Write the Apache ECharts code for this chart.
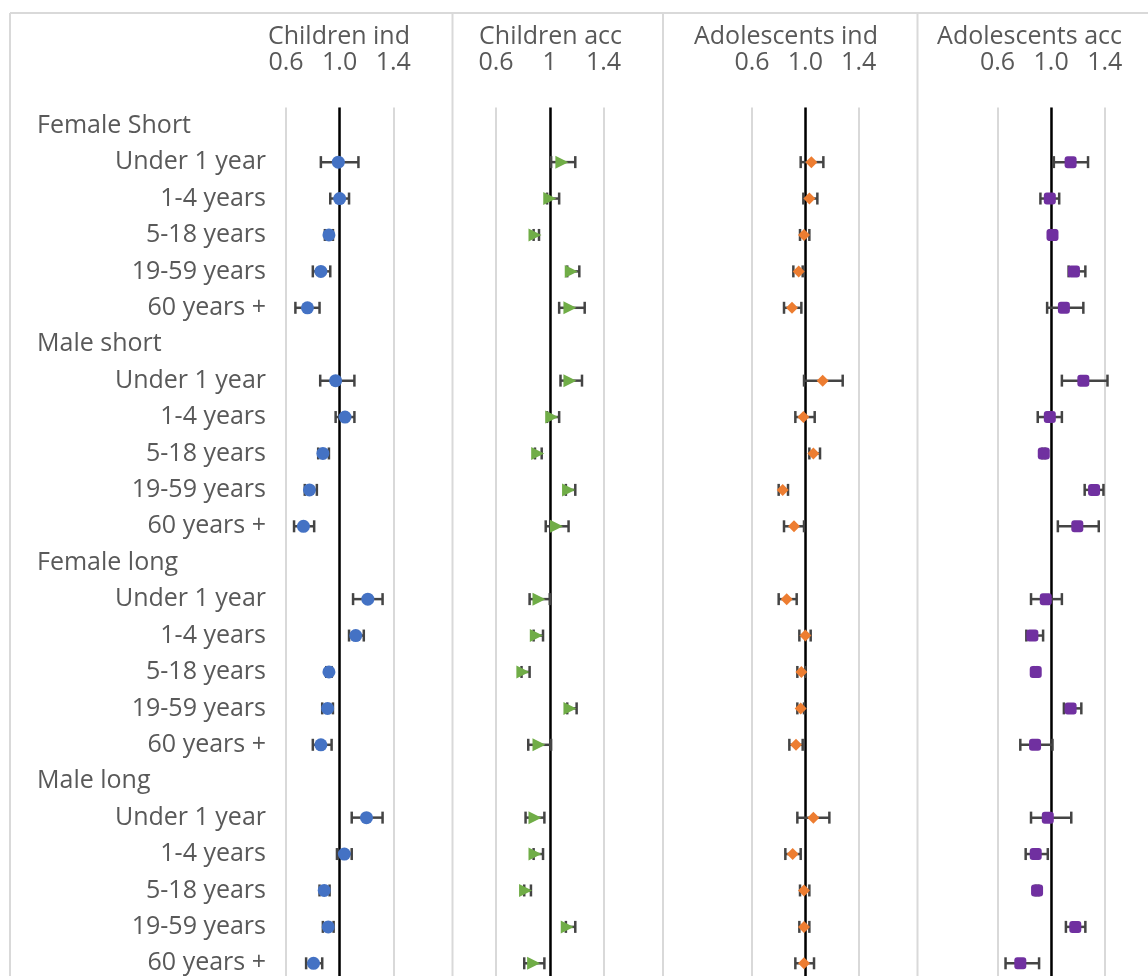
<!DOCTYPE html>
<html>
<head>
<meta charset="utf-8">
<script src="https://cdn.jsdelivr.net/npm/echarts@6/dist/echarts.min.js"></script>
<style>
  html, body { margin: 0; padding: 0; background: #ffffff; overflow: hidden; }
  #chart { width: 1148px; height: 992px; }
</style>
</head>
<body>
<div id="chart"></div>
<script>
// Row labels: group headers carry no value
const categories = [
  'Female Short', 'Under 1 year', '1-4 years', '5-18 years', '19-59 years', '60 years +',
  'Male short', 'Under 1 year', '1-4 years', '5-18 years', '19-59 years', '60 years +',
  'Female long', 'Under 1 year', '1-4 years', '5-18 years', '19-59 years', '60 years +',
  'Male long', 'Under 1 year', '1-4 years', '5-18 years', '19-59 years', '60 years +'
];
const headerRows = [0, 6, 12, 18];

const panelTitles = ['Children ind', 'Children acc', 'Adolescents ind', 'Adolescents acc'];
const tickValues = [0.6, 1.0, 1.4];
const tickLabels = [
  ['0.6', '1.0', '1.4'],
  ['0.6', '1', '1.4'],
  ['0.6', '1.0', '1.4'],
  ['0.6', '1.0', '1.4']
];

// Point estimates with lower / upper limits per row
const childrenInd   = [null, 0.99, 1.00, 0.92, 0.86, 0.76, null, 0.97, 1.04, 0.875, 0.775, 0.73, null, 1.21, 1.12, 0.92, 0.91, 0.86, null, 1.20, 1.035, 0.885, 0.915, 0.805];
const childrenIndLo = [null, 0.86, 0.93, 0.89, 0.80, 0.67, null, 0.855, 0.97, 0.84, 0.74, 0.66, null, 1.10, 1.07, 0.90, 0.87, 0.80, null, 1.09, 0.98, 0.85, 0.875, 0.75];
const childrenIndHi = [null, 1.14, 1.07, 0.95, 0.93, 0.85, null, 1.11, 1.11, 0.92, 0.83, 0.81, null, 1.32, 1.18, 0.94, 0.95, 0.94, null, 1.32, 1.09, 0.925, 0.955, 0.87];

const childrenAcc   = [null, 1.09, 1.00, 0.89, 1.16, 1.15, null, 1.15, 1.015, 0.91, 1.14, 1.05, null, 0.92, 0.90, 0.80, 1.15, 0.92, null, 0.89, 0.89, 0.82, 1.13, 0.88];
const childrenAccLo = [null, 1.01, 0.98, 0.88, 1.13, 1.07, null, 1.08, 0.98, 0.89, 1.12, 0.97, null, 0.85, 0.88, 0.79, 1.13, 0.84, null, 0.82, 0.88, 0.81, 1.12, 0.81];
const childrenAccHi = [null, 1.19, 1.07, 0.92, 1.22, 1.26, null, 1.24, 1.07, 0.94, 1.19, 1.14, null, 1.00, 0.95, 0.85, 1.20, 1.01, null, 0.96, 0.95, 0.86, 1.19, 0.96];

const adolInd   = [null, 1.045, 1.03, 0.99, 0.95, 0.90, null, 1.13, 0.985, 1.06, 0.83, 0.915, null, 0.86, 1.00, 0.97, 0.965, 0.93, null, 1.06, 0.905, 0.99, 0.99, 0.99];
const adolIndLo = [null, 0.965, 0.985, 0.96, 0.91, 0.84, null, 0.99, 0.925, 1.03, 0.80, 0.84, null, 0.80, 0.955, 0.94, 0.94, 0.88, null, 0.94, 0.85, 0.96, 0.955, 0.925];
const adolIndHi = [null, 1.135, 1.09, 1.03, 0.98, 0.97, null, 1.28, 1.07, 1.11, 0.87, 0.99, null, 0.935, 1.04, 1.00, 0.99, 0.98, null, 1.18, 0.965, 1.03, 1.03, 1.065];

const adolAcc   = [null, 1.145, 0.99, 1.01, 1.17, 1.095, null, 1.24, 0.99, 0.945, 1.32, 1.195, null, 0.96, 0.86, 0.885, 1.145, 0.88, null, 0.975, 0.885, 0.895, 1.18, 0.77];
const adolAccLo = [null, 1.02, 0.92, 0.99, 1.13, 0.97, null, 1.08, 0.90, 0.935, 1.25, 1.05, null, 0.85, 0.815, 0.875, 1.095, 0.77, null, 0.85, 0.81, 0.885, 1.11, 0.66];
const adolAccHi = [null, 1.275, 1.06, 1.03, 1.255, 1.24, null, 1.42, 1.08, 0.955, 1.39, 1.355, null, 1.08, 0.94, 0.895, 1.225, 1.01, null, 1.15, 0.975, 0.905, 1.255, 0.91];

const panels = [
  { est: childrenInd, lo: childrenIndLo, hi: childrenIndHi, color: '#4472C4', symbol: 'circle',   size: 13, rotate: 0 },
  { est: childrenAcc, lo: childrenAccLo, hi: childrenAccHi, color: '#70AD47', symbol: 'triangle', size: 13, rotate: -90 },
  { est: adolInd,     lo: adolIndLo,     hi: adolIndHi,     color: '#ED7D31', symbol: 'diamond',  size: 12, rotate: 0 },
  { est: adolAcc,     lo: adolAccLo,     hi: adolAccHi,     color: '#7030A0', symbol: 'roundRect', size: 12, rotate: 0 }
];

// Plot geometry of each panel (the plot runs slightly past the visible bottom edge)
const gridLefts  = [286, 496, 752, 997.5];
const gridWidths = [107.3, 107.5, 106.7, 107.3];
const titleRight = [410, 622, 878, 1122];
const gridTop = 107.5;
const gridHeight = 874;

const TEXT = '#595959';
const FONT = '"Open Sans", "Noto Sans", sans-serif';
const FS = 25;

const chart = echarts.init(document.getElementById('chart'), null, { renderer: 'canvas' });

const grids = [], xAxes = [], yAxes = [], series = [];

panels.forEach((p, k) => {
  grids.push({ left: gridLefts[k], width: gridWidths[k], top: gridTop, height: gridHeight });

  xAxes.push({
    gridIndex: k,
    type: 'value',
    position: 'top',
    min: 0.6, max: 1.4, interval: 0.4,
    axisLine: { show: false },
    axisTick: { show: false },
    axisLabel: {
      color: TEXT, fontFamily: FONT, fontSize: FS, margin: 32,
      formatter: (v) => {
        const i = tickValues.findIndex(t => Math.abs(t - v) < 1e-6);
        return i >= 0 ? tickLabels[k][i] : '';
      }
    },
    splitLine: { show: true, lineStyle: { color: '#d9d9d9', width: 2 } }
  });

  yAxes.push({
    gridIndex: k,
    type: 'category',
    data: categories,
    inverse: true,
    axisLine: { show: false },
    axisTick: { show: false },
    splitLine: { show: false },
    axisLabel: k === 0 ? {
      show: true,
      interval: 0,
      margin: 20,
      color: TEXT, fontFamily: FONT, fontSize: FS,
      formatter: (val, idx) => headerRows.includes(idx) ? '{h|' + val + '}' : val,
      rich: {
        h: { width: 229, align: 'left', color: TEXT, fontFamily: FONT, fontSize: FS }
      }
    } : { show: false }
  });

  const errData = [];
  const ptData = [];
  p.est.forEach((v, i) => {
    if (v == null) return;
    errData.push([p.lo[i], p.hi[i], i]);
    ptData.push([v, i]);
  });

  series.push({
    type: 'custom',
    xAxisIndex: k, yAxisIndex: k,
    data: errData,
    encode: { x: [0, 1], y: 2 },
    clip: false,
    z: 2,
    silent: true,
    renderItem: (params, api) => {
      const y = api.value(2);
      const a = api.coord([api.value(0), y]);
      const b = api.coord([api.value(1), y]);
      const h = 6;
      const st = { stroke: '#444444', lineWidth: 2.5 };
      return {
        type: 'group',
        children: [
          { type: 'line', shape: { x1: a[0], y1: a[1], x2: b[0], y2: b[1] }, style: st },
          { type: 'line', shape: { x1: a[0], y1: a[1] - h, x2: a[0], y2: a[1] + h }, style: st },
          { type: 'line', shape: { x1: b[0], y1: b[1] - h, x2: b[0], y2: b[1] + h }, style: st }
        ]
      };
    }
  });

  series.push({
    type: 'scatter',
    xAxisIndex: k, yAxisIndex: k,
    data: ptData,
    symbol: p.symbol,
    symbolSize: p.size,
    symbolRotate: p.rotate,
    itemStyle: { color: p.color, opacity: 1 },
    clip: false,
    z: 3,
    silent: true,
    markLine: {
      silent: true,
      symbol: 'none',
      label: { show: false },
      lineStyle: { color: '#000000', width: 2.5, type: 'solid' },
      data: [{ xAxis: 1.0 }],
      z: 1
    }
  });
});

// Panel frame and headings
const frame = '#d9d9d9';
const graphics = [
  { type: 'line', shape: { x1: 10, y1: 13, x2: 1148, y2: 13 }, style: { stroke: frame, lineWidth: 2 } },
  { type: 'line', shape: { x1: 10, y1: 13, x2: 10, y2: 992 }, style: { stroke: frame, lineWidth: 2 } },
  { type: 'line', shape: { x1: 452.5, y1: 13, x2: 452.5, y2: 992 }, style: { stroke: frame, lineWidth: 2 } },
  { type: 'line', shape: { x1: 663, y1: 13, x2: 663, y2: 992 }, style: { stroke: frame, lineWidth: 2 } },
  { type: 'line', shape: { x1: 917.5, y1: 13, x2: 917.5, y2: 992 }, style: { stroke: frame, lineWidth: 2 } }
];
panelTitles.forEach((t, k) => {
  graphics.push({
    type: 'text',
    x: titleRight[k], y: 37,
    style: { text: t, fill: TEXT, font: FS + 'px ' + FONT, textAlign: 'right', textVerticalAlign: 'middle' }
  });
});

chart.setOption({
  animation: false,
  backgroundColor: '#ffffff',
  grid: grids,
  xAxis: xAxes,
  yAxis: yAxes,
  series: series,
  graphic: graphics
});
</script>
</body>
</html>
